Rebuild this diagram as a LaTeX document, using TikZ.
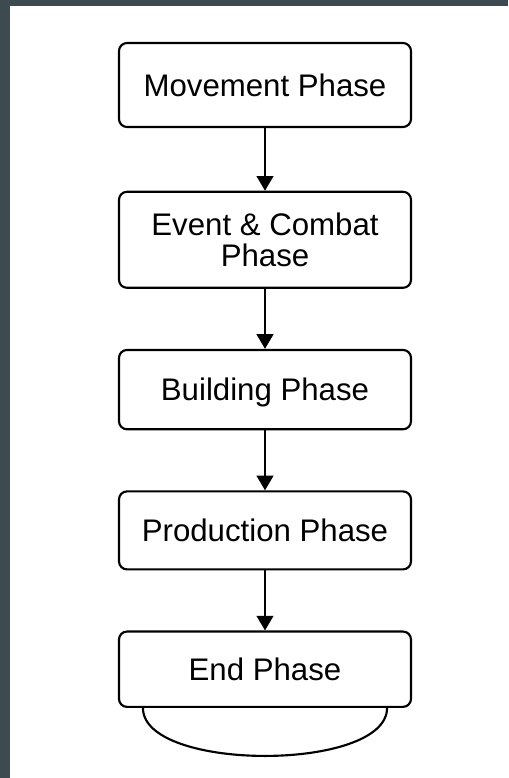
\documentclass[tikz,border=0pt]{standalone}
\usepackage{fontspec}
\setmainfont{Liberation Sans}
\usepackage{xcolor}
\usetikzlibrary{arrows.meta,positioning}
\definecolor{slate}{HTML}{3D4A50}

\begin{document}
\begin{tikzpicture}[x=0.75pt,y=-0.75pt,>={Triangle[length=11pt,width=12.5pt]},node distance=45pt,
 phase/.style={draw,line width=1.6pt,rounded corners=6pt,minimum width=219pt,align=center,
 inner sep=0pt,text height=16.8pt,text depth=0pt,font=\fontsize{23.4}{23.8}\selectfont}]
 \fill[slate] (0,0) rectangle (508,778);
 \fill[white] (10,6) rectangle (508,778);
 \useasboundingbox (0,0) rectangle (508,778);
 \node[phase,minimum height=63pt] (move) at (265,85) {Movement Phase};
 \node[phase,below=47pt of move,minimum height=72pt,text height=40.6pt] (combat) {Event \& Combat\\Phase};
 \node[phase,below=of combat,minimum height=59.5pt] (build) {Building Phase};
 \node[phase,below=of build,minimum height=58.5pt] (prod) {Production Phase};
 \node[phase,below=of prod,minimum height=56.5pt] (finish) {End Phase};
 \draw[->,line width=1.6pt] (move) -- (combat);
 \draw[->,line width=1.6pt] (combat) -- (build);
 \draw[->,line width=1.6pt] (build) -- (prod);
 \draw[->,line width=1.6pt] (prod) -- (finish);
 \coordinate (loopL) at ([xshift=18.75pt]finish.south west);
 \coordinate (loopR) at ([xshift=-18.75pt]finish.south east);
 \draw[line width=1.6pt] (loopL) .. controls +(0,64) and +(0,64) .. (loopR);
\end{tikzpicture}
\end{document}
